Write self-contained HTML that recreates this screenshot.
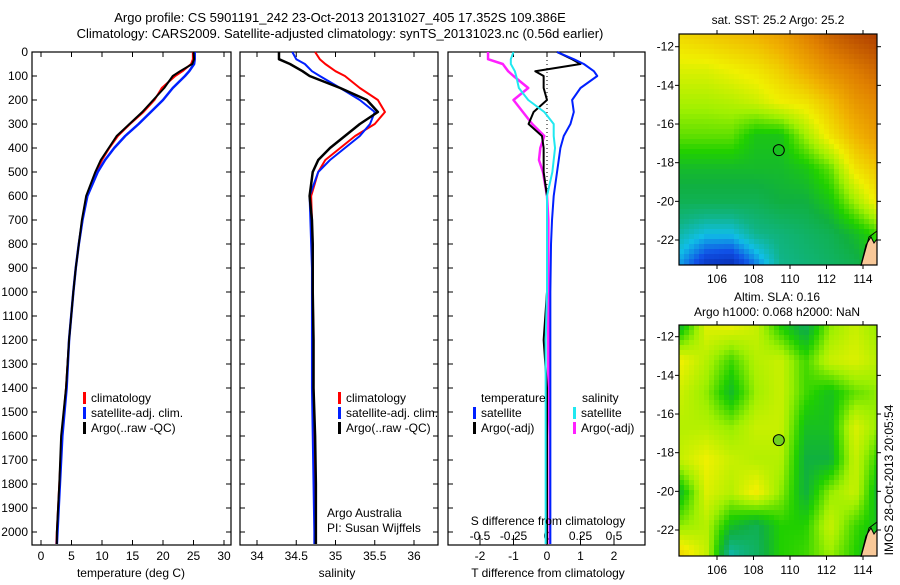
<!DOCTYPE html>
<html><head><meta charset="utf-8"><style>
body{margin:0;background:#fff;}
svg text{font-family:"Liberation Sans",sans-serif;font-size:12px;fill:#000;}
</style></head><body>
<svg id="s" width="900" height="580" xmlns="http://www.w3.org/2000/svg">
<rect width="900" height="580" fill="#fff"/>
<text x="340" y="22" text-anchor="middle" style="font-size:13px">Argo profile: CS 5901191_242 23-Oct-2013 20131027_405 17.352S 109.386E</text>
<text x="340" y="38" text-anchor="middle" style="font-size:13px">Climatology: CARS2009. Satellite-adjusted climatology: synTS_20131023.nc (0.56d earlier)</text>
<g id="g"></g>
</svg>
<script>
// ---- data ----
const depths = [0,30,50,80,100,150,200,250,300,350,400,450,500,600,700,800,900,1000,1200,1400,1600,1800,2000,2050];
const tempClim = [24.9,24.9,24.6,23.2,22.0,19.8,18.6,16.8,14.6,12.6,11.2,10.0,9.0,7.5,6.8,6.2,5.7,5.3,4.6,4.1,3.4,3.0,2.6,2.5];
const tempSat  = [25.2,25.2,25.1,24.3,23.6,21.6,20.0,18.0,16.0,13.8,12.0,10.5,9.3,7.6,6.8,6.2,5.7,5.3,4.6,4.2,3.5,3.1,2.7,2.6];
const tempArgo = [25.0,25.1,24.8,22.8,21.6,20.2,18.4,16.6,14.5,12.4,11.1,9.8,8.9,7.4,6.7,6.2,5.7,5.3,4.6,4.1,3.3,3.0,2.6,2.6];
const salClim = [34.74,34.80,34.87,35.00,35.12,35.31,35.54,35.63,35.50,35.25,35.06,34.87,34.78,34.69,34.70,34.70,34.71,34.71,34.72,34.72,34.73,34.74,34.75,34.75];
const salSat  = [34.45,34.50,34.61,34.70,34.80,35.06,35.31,35.50,35.44,35.31,35.12,34.93,34.78,34.67,34.68,34.69,34.70,34.70,34.70,34.70,34.71,34.72,34.73,34.73];
const salArgo = [34.28,34.28,34.42,34.58,34.67,35.06,35.40,35.54,35.31,35.12,34.93,34.78,34.71,34.67,34.70,34.71,34.71,34.71,34.72,34.72,34.74,34.75,34.75,34.75];
const dTSat  = [0.3,0.8,1.1,1.4,1.5,1.0,0.75,0.8,0.7,0.5,0.4,0.35,0.3,0.2,0.15,0.12,0.11,0.1,0.1,0.1,0.1,0.1,0.1,0.1];
const dTArgo = [0.3,0.75,1.0,-0.35,-0.1,-0.1,0.0,-0.4,-0.55,-0.15,-0.1,-0.1,-0.1,0.0,0.0,0.0,0.0,0.0,-0.1,0.0,0.0,0.0,0.0,0.0];
const dSSat  = [-0.25,-0.27,-0.27,-0.24,-0.23,-0.21,-0.14,-0.02,0.05,0.05,0.06,0.05,0.04,0.0,0.0,0.0,0.0,0.0,-0.01,-0.01,-0.01,-0.01,-0.01,-0.01];
const dSArgo = [-0.44,-0.44,-0.33,-0.29,-0.25,-0.14,-0.25,-0.18,-0.11,-0.02,-0.05,-0.06,-0.03,0.0,0.01,0.01,0.01,0.01,0.01,0.01,0.02,0.02,0.02,0.02];
const depthTicks = [0,100,200,300,400,500,600,700,800,900,1000,1100,1200,1300,1400,1500,1600,1700,1800,1900,2000];
const tempTicks = [0,5,10,15,20,25,30];
const salTicks = [34,34.5,35,35.5,36];
const dTTicks = [-2,-1,0,1,2];
const dSTicks = [-0.5,-0.25,0,0.25,0.5];
const dSTickLabels = ["-0.5","-0.25","0","0.25","0.5"];
const lonTicks = [106,108,110,112,114];
const latTicks = [-12,-14,-16,-18,-20,-22];
const sstGrid = [
[.68,.70,.72,.74,.78,.84,.90,.94,.97],
[.62,.62,.64,.66,.70,.76,.82,.86,.90],
[.57,.57,.58,.60,.64,.66,.72,.80,.84],
[.52,.52,.52,.46,.46,.56,.66,.74,.80],
[.44,.44,.44,.44,.44,.46,.52,.66,.72],
[.40,.40,.40,.40,.42,.42,.46,.56,.66],
[.32,.28,.28,.34,.36,.38,.40,.44,.50],
[.24,.14,.12,.22,.34,.36,.38,.40,.45]];
const slaGrid = [
[.45,.62,.63,.60,.48,.40,.55,.60,.55],
[.64,.58,.50,.58,.60,.50,.60,.62,.58],
[.60,.55,.44,.56,.60,.50,.45,.52,.55],
[.58,.58,.55,.60,.60,.45,.45,.62,.55],
[.60,.64,.60,.58,.58,.42,.42,.60,.48],
[.45,.62,.58,.65,.55,.42,.55,.60,.42],
[.55,.58,.45,.40,.48,.48,.60,.50,.45],
[.70,.60,.30,.38,.48,.50,.55,.48,.40]];
const argoLon = 109.386, argoLat = -17.352;

const NS="http://www.w3.org/2000/svg";
const G=document.getElementById('g');
function el(tag,attrs,parent){const e=document.createElementNS(NS,tag);for(const k in attrs)e.setAttribute(k,attrs[k]);(parent||G).appendChild(e);return e;}
function txt(x,y,s,anchor,parent){const t=el('text',{x:x,y:y,'text-anchor':anchor||'start'},parent);t.textContent=s;return t;}

const Y0=52, YB=545;
const yD = d => Y0 + d*0.24;
const xT = v => 41 + v*6.1;
const xS = v => 257 + (v-34)*78.5;
const xDT = v => 547 + v*33.5;
const xDS = v => 547 + v*134;

function panel(x0,x1,name){
  const r=el('rect',{x:x0,y:Y0,width:x1-x0,height:YB-Y0,fill:'none',stroke:'#000','stroke-width':1.2});
  
  
  depthTicks.forEach(d=>{el('line',{x1:x0,x2:x0+5,y1:yD(d),y2:yD(d),stroke:'#000'});el('line',{x1:x1-5,x2:x1,y1:yD(d),y2:yD(d),stroke:'#000'});});
}
function xticks(ticks,fx,labels,ylab){
  ticks.forEach((v,i)=>{const x=fx(v);el('line',{x1:x,x2:x,y1:YB-5,y2:YB,stroke:'#000'});el('line',{x1:x,x2:x,y1:Y0,y2:Y0+5,stroke:'#000'});
    const t=txt(x,ylab,labels?labels[i]:String(v),'middle');});
}
function line(vals,fx,color,w,name){
  const p=el('polyline',{points:vals.map((v,i)=>fx(v)+','+yD(depths[i])).join(' '),fill:'none',stroke:color,'stroke-width':w,'stroke-linejoin':'round'});
  
  
}
function legend(x,y,items){
  items.forEach((it,i)=>{el('rect',{x:x,y:y+i*15-10,width:3,height:12,fill:it[1]});const t=txt(x+8,y+i*15,it[0]);});
}

// panel 1
panel(32,231,'temperature-panel');
depthTicks.forEach(d=>{const t=txt(28,yD(d)+4,String(d),'end');});
xticks(tempTicks,xT,null,560);
line(tempClim,xT,'#ff0000',2,'temp-climatology-line');
line(tempSat,xT,'#0020ff',2.5,'temp-satellite-line');
line(tempArgo,xT,'#000',2,'temp-argo-line');
legend(83,402,[['climatology','#ff0000'],['satellite-adj. clim.','#0020ff'],['Argo(..raw -QC)','#000']]);
{const t=txt(131,577,'temperature (deg C)','middle');}

// panel 2
panel(240,438,'salinity-panel');
xticks(salTicks,xS,null,560);
line(salClim,xS,'#ff0000',2,'sal-climatology-line');
line(salSat,xS,'#0020ff',2,'sal-satellite-line');
line(salArgo,xS,'#000',2.5,'sal-argo-line');
legend(338,402,[['climatology','#ff0000'],['satellite-adj. clim.','#0020ff'],['Argo(..raw -QC)','#000']]);
{const t=txt(327,517,'Argo Australia');}
{const t=txt(327,532,'PI: Susan Wijffels');}
{const t=txt(337,577,'salinity','middle');}

// panel 3
panel(448,645,'difference-panel');
el('line',{x1:xDT(0),x2:xDT(0),y1:Y0,y2:yD(600),stroke:'#000','stroke-dasharray':'1,3'});
xticks(dTTicks,xDT,null,560);
dSTicks.forEach((v,i)=>{const x=xDS(v);el('line',{x1:x,x2:x,y1:YB-10,y2:YB-5,stroke:'#000'});const t=txt(x,540,dSTickLabels[i],'middle');});
line(dSArgo,xDS,'#ff20ff',2.5,'sdiff-argo-line');
line(dTArgo,xDT,'#000',2,'tdiff-argo-line');
line(dTSat,xDT,'#0020ff',2,'tdiff-satellite-line');
line(dSSat,xDS,'#20e8f0',2,'sdiff-satellite-line');
{const t=txt(481,402,'temperature');}
{const t=txt(582,402,'salinity');}
legend(473,417,[['satellite','#0020ff'],['Argo(-adj)','#000']]);
legend(573,417,[['satellite','#20e8f0'],['Argo(-adj)','#ff20ff']]);
{const t=txt(548,525,'S difference from climatology','middle');}
{const t=txt(548,577,'T difference from climatology','middle');}

// maps
const stops=[[0.08,[0,20,140]],[0.2,[16,80,230]],[0.28,[16,190,230]],[0.35,[16,180,130]],[0.42,[16,176,64]],[0.48,[32,208,0]],[0.56,[160,240,0]],[0.64,[240,240,0]],[0.75,[240,176,0]],[0.85,[224,128,0]],[0.97,[176,64,0]]];
function cmap(v){if(v<=stops[0][0])return stops[0][1];for(let i=1;i<stops.length;i++){if(v<=stops[i][0]){const a=stops[i-1],b=stops[i],f=(v-a[0])/(b[0]-a[0]);return a[1].map((c,k)=>Math.round(c+(b[1][k]-c)*f));}}return stops[stops.length-1][1];}
function map(grid,mx0,mx1,my0,my1,lat12,lat22,filled,name){
  const lonX=l=>717+(l-106)*18.25;
  const latY=l=>lat12+(l+12)*(lat22-lat12)/(-10);
  const g=el('g',{});
  
  
  const cs=5,R=grid.length,C=grid[0].length;
  for(let y=my0;y<my1;y+=cs)for(let x=mx0;x<mx1;x+=cs){
    const fx=(x-mx0)/(mx1-mx0)*(C-1), fy=(y-my0)/(my1-my0)*(R-1);
    const i=Math.min(Math.floor(fy),R-2), j=Math.min(Math.floor(fx),C-2), u=fx-j, v=fy-i;
    const val=grid[i][j]*(1-u)*(1-v)+grid[i][j+1]*u*(1-v)+grid[i+1][j]*(1-u)*v+grid[i+1][j+1]*u*v;
    const c=cmap(val);
    el('rect',{x:x,y:y,width:Math.min(cs,mx1-x),height:Math.min(cs,my1-y),fill:'rgb('+c.join(',')+')'},g);
  }
  el('path',{d:`M${mx1},${my1} L${mx1-16},${my1} L${mx1-11},${my1-20} L${mx1-6},${my1-28} L${mx1-3},${my1-22} L${mx1},${my1-26} Z`,fill:'#f8c898',stroke:'#000','stroke-width':1},g);
  el('path',{d:`M${mx1-16},${my1+1} L${mx1-8},${my1-28} L${mx1},${my1-34}`,fill:'none',stroke:'#000','stroke-width':1},g);
  el('rect',{x:mx0,y:my0,width:mx1-mx0,height:my1-my0,fill:'none',stroke:'#000','stroke-width':1.2},g);
  lonTicks.forEach(l=>{const x=lonX(l);el('line',{x1:x,x2:x,y1:my1,y2:my1+4,stroke:'#000'},g);el('line',{x1:x,x2:x,y1:my0-4,y2:my0,stroke:'#000'},g);const t=txt(x,my1+18,String(l),'middle',g);});
  latTicks.forEach(l=>{const y=latY(l);el('line',{x1:mx0-4,x2:mx0,y1:y,y2:y,stroke:'#000'},g);el('line',{x1:mx1,x2:mx1+4,y1:y,y2:y,stroke:'#000'},g);const t=txt(mx0-5,y+4,String(l),'end',g);});
  const m=el('circle',{cx:lonX(argoLon),cy:latY(argoLat),r:5.5,fill:filled,stroke:'#000','stroke-width':1},g);
  
  
}
map(sstGrid,679,877,34,265,46.7,240,'none','sst-map');
map(slaGrid,679,877,325,556,336.7,530,'#70d020','sla-map');
{const t=txt(778,24,'sat. SST: 25.2 Argo: 25.2','middle');}
{const t=txt(777,301,'Altim. SLA: 0.16','middle');}
{const t=txt(777,316,'Argo h1000: 0.068 h2000: NaN','middle');}
{const t=txt(0,0,'IMOS 28-Oct-2013 20:05:54','middle');t.setAttribute('transform','translate(893,480) rotate(-90)');}
</script>
</body></html>
